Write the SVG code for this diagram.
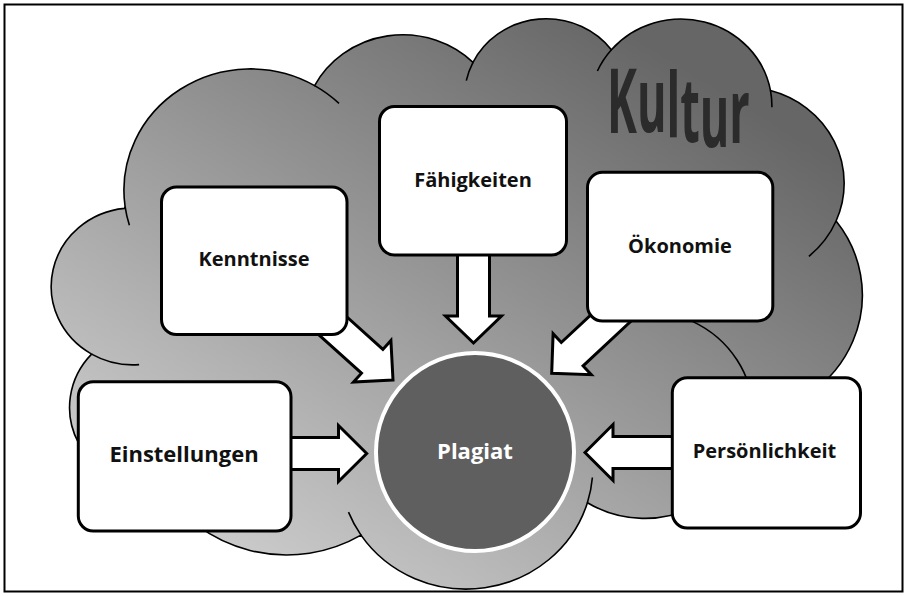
<svg xmlns="http://www.w3.org/2000/svg" width="908" height="596" viewBox="0 0 908 596">
<defs>
<linearGradient id="cloudFill" gradientUnits="userSpaceOnUse" x1="190" y1="590" x2="560" y2="-10">
<stop offset="0" stop-color="#d3d3d3"/>
<stop offset="1" stop-color="#666666"/>
</linearGradient>
<style>
.frame{fill:#fff;stroke:#000;stroke-width:2}
.cloud{fill:url(#cloudFill);stroke:#000;stroke-width:1.6;stroke-linejoin:miter}
.inner{fill:none;stroke:#000;stroke-width:1.6}
.box{fill:#fff;stroke:#000;stroke-width:3}
.arrow{fill:#fff;stroke:#000;stroke-width:3;stroke-linejoin:miter}
.lbl{font-family:"Open Sans","Noto Sans",sans-serif;font-weight:700;font-size:20px;fill:#111;text-anchor:middle}
.kultur{font-family:"Open Sans","Noto Sans",sans-serif;font-weight:700;font-size:90px;fill:#2b2b2b}
.core{fill:#5f5f5f;stroke:#fff;stroke-width:4}
</style>
</defs>
<rect class="frame" x="4.5" y="4.5" width="898" height="587"/>
<g id="cloud">
<path class="cloud" d="M 125.1 206.6 A 126.6 121.3 0 0 1 314.6 85.6 A 100 95.9 0 0 1 473 62.3 A 81.8 78.4 0 0 1 611.4 49.7 A 91.1 87 0 0 1 770.5 90.6 A 100 96 0 0 1 836.1 221 A 127 121.65 0 0 1 753.3 415.5 A 108.5 103.8 0 0 1 587.4 502.7 A 126.6 121.6 0 0 1 361 535.1 A 144.75 139.1 0 0 1 160.9 485 A 81.75 78.1 0 0 1 91.6 354.1 A 81.5 78.4 0 0 1 124.5 208.4 Z"/>
<path class="inner" d="M 139.1 364.6 A 81.5 78.4 0 0 1 91.6 354.1 M 181.6 480 A 81.75 78.1 0 0 1 160.9 485 M 361 535.1 A 126.6 121.6 0 0 1 348.5 512.1 M 592.4 477.5 A 126.6 121.6 0 0 1 587.4 502.7 M 692.4 321.4 A 108.5 103.8 0 0 1 753.3 415.5 M 836.1 221 A 100 96 0 0 1 808.9 256.3 M 770.5 90.6 A 91.1 87 0 0 1 771.9 107.2 M 597.4 71 A 91.1 87 0 0 1 611.4 49.7 M 466.3 80.6 A 81.8 78.4 0 0 1 473 62.3 M 314.6 85.6 A 126.6 121.3 0 0 1 339 103.4 M 129.4 225.3 A 126.6 121.3 0 0 1 125.1 206.6"/>
<text class="kultur" transform="scale(0.5,1)" x="1214" y="133 132 137 142 147 143">Kultur</text>
</g>
<g id="connectors">
<path class="arrow" d="M 366.7 453.5 L 338.5 425.5 L 338.5 437.5 L 286 437.5 L 286 469.5 L 338.5 469.5 L 338.5 481.5 Z"/>
<path class="arrow" d="M 585 452.5 L 613 424.5 L 613 436.5 L 676 436.5 L 676 468.5 L 613 468.5 L 613 480.5 Z"/>
<path class="arrow" d="M 473.5 343 L 445.5 316 L 457.5 316 L 457.5 250 L 489.5 250 L 489.5 316 L 501.5 316 Z"/>
<path class="arrow" d="M 393 380 L 353.5 382.1 L 361.5 373.2 L 313.9 330.3 L 335.3 306.5 L 382.9 349.4 L 390.9 340.5 Z"/>
<path class="arrow" d="M 551.7 373.3 L 553.1 333.7 L 561.3 342.5 L 613.9 293.4 L 635.7 316.8 L 583.1 365.9 L 591.3 374.7 Z"/>
</g>
<g id="kenntnisse">
<rect class="box" x="161.5" y="187" width="185.5" height="147.5" rx="15"/>
<text class="lbl" x="254" y="266">Kenntnisse</text>
</g>
<g id="faehigkeiten">
<rect class="box" x="379.5" y="106.5" width="187" height="148.5" rx="15"/>
<text class="lbl" x="473" y="186.5">Fähigkeiten</text>
</g>
<g id="oekonomie">
<rect class="box" x="587.5" y="172.3" width="185.3" height="148.7" rx="15"/>
<text class="lbl" x="680" y="252.5">Ökonomie</text>
</g>
<g id="einstellungen">
<rect class="box" x="78.3" y="381.7" width="212.7" height="149.3" rx="15"/>
<text class="lbl" x="184" y="461.5" style="font-size:22px">Einstellungen</text>
</g>
<g id="persoenlichkeit">
<rect class="box" x="672.3" y="377.7" width="188.2" height="150.3" rx="15"/>
<text class="lbl" x="764.5" y="457.5">Persönlichkeit</text>
</g>
<g id="plagiat">
<circle class="core" cx="475" cy="452" r="99"/>
<text class="lbl" x="475" y="459" style="font-size:22px;fill:#fff">Plagiat</text>
</g>
</svg>
